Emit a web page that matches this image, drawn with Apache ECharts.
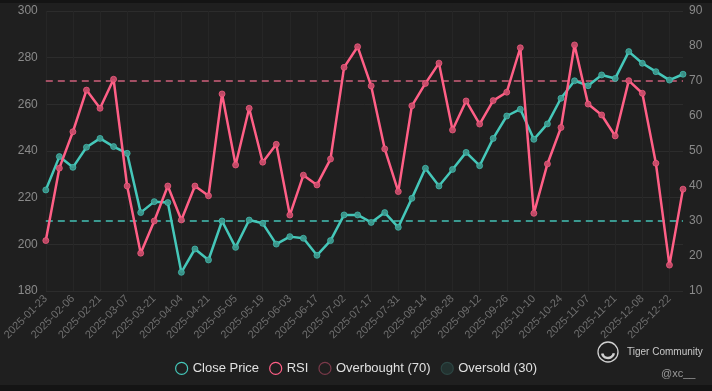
<!DOCTYPE html>
<html>
<head>
<meta charset="utf-8">
<script src="https://cdn.jsdelivr.net/npm/echarts@6/dist/echarts.min.js"></script>
<style>
html,body{margin:0;padding:0;background:#141414;}
#c{width:712px;height:391px;}
</style>
</head>
<body>
<div id="c"></div>
<script>
const categories = [
 '2025-01-23','2025-01-30','2025-02-06','2025-02-13','2025-02-21','2025-02-28','2025-03-07','2025-03-14',
 '2025-03-21','2025-03-28','2025-04-04','2025-04-11','2025-04-21','2025-04-28','2025-05-05','2025-05-12',
 '2025-05-19','2025-05-27','2025-06-03','2025-06-10','2025-06-17','2025-06-25','2025-07-02','2025-07-10',
 '2025-07-17','2025-07-24','2025-07-31','2025-08-07','2025-08-14','2025-08-21','2025-08-28','2025-09-05',
 '2025-09-12','2025-09-19','2025-09-26','2025-10-03','2025-10-10','2025-10-17','2025-10-24','2025-10-31',
 '2025-11-07','2025-11-14','2025-11-21','2025-12-01','2025-12-08','2025-12-15','2025-12-22','2025-12-30'
];
const closePrice = [
 223.3,237.6,233.0,241.6,245.4,241.9,239.0,213.6,218.3,217.9,188.0,198.0,
 193.3,210.0,198.7,210.4,209.0,200.1,203.3,202.6,195.3,201.6,212.6,212.6,
 209.4,213.6,207.3,219.7,232.6,225.0,232.1,239.4,233.7,245.4,255.0,257.9,
 245.0,251.6,262.6,270.1,268.0,272.6,271.1,282.6,277.6,274.0,270.4,272.9
];
const rsi = [
 24.4,45.1,55.5,67.4,62.2,70.5,40.0,20.8,30.0,40.0,30.3,40.0,
 37.2,66.3,46.0,62.2,46.8,51.9,31.7,43.1,40.3,47.7,73.9,79.8,
 68.6,50.6,38.4,62.9,69.3,75.1,56.0,64.3,57.7,64.4,66.8,79.5,
 32.2,46.3,56.7,80.3,63.4,60.3,54.3,70.1,66.5,46.5,17.4,39.1
];
const overboughtLevel = 70;
const oversoldLevel = 30;
const overbought = categories.map(() => overboughtLevel);
const oversold = categories.map(() => oversoldLevel);
const leftTicks = {min:180, max:300, interval:20};
const rightTicks = {min:10, max:90, interval:10};

const TEAL = '#45c7b9';
const PINK = '#ff5f86';
const OB = '#a34f64';
const OS = '#3a9990';
const FONT = 'Liberation Sans, Arial, sans-serif';

const chart = echarts.init(document.getElementById('c'), null, {renderer:'canvas'});
chart.setOption({
  backgroundColor: '#1f1f1f',
  animation: false,
  textStyle: {fontFamily: FONT},
  grid: {left: 37, right: 29, top: 11, bottom: 100, containLabel: false},
  legend: {
    bottom: 11, left: 'center',
    itemWidth: 12, itemHeight: 12, itemGap: 10, icon: 'circle',
    textStyle: {color: '#e0e0e0', fontSize: 13, fontFamily: FONT},
    data: [
      {name:'Close Price', itemStyle:{color:'#1f1f1f', borderColor:TEAL, borderWidth:1.2}},
      {name:'RSI', itemStyle:{color:'#1f1f1f', borderColor:PINK, borderWidth:1.2}},
      {name:'Overbought (70)', itemStyle:{color:'#1f1f1f', borderColor:'#7a3a4a', borderWidth:1.2}},
      {name:'Oversold (30)', itemStyle:{color:'#233230', borderColor:'#2c4643', borderWidth:1.2}}
    ]
  },
  xAxis: {
    type: 'category', data: categories, boundaryGap: false,
    axisLine: {show:false}, axisTick: {show:false},
    axisLabel: {interval: 1, rotate: 45, color: '#6f6f6f', fontSize: 11, margin: 6, fontFamily: FONT},
    splitLine: {show: true, interval: 1, lineStyle: {color: '#262626', width: 1}}
  },
  yAxis: [
    {type:'value', min:leftTicks.min, max:leftTicks.max, interval:leftTicks.interval,
     axisLine:{show:false}, axisTick:{show:false},
     axisLabel:{color:'#8a8a8a', fontSize:12, margin:8, fontFamily:FONT},
     splitLine:{lineStyle:{color:'#2c2c2c', width:1}}},
    {type:'value', min:rightTicks.min, max:rightTicks.max, interval:rightTicks.interval,
     axisLine:{show:false}, axisTick:{show:false},
     axisLabel:{color:'#8a8a8a', fontSize:12, margin:6, fontFamily:FONT},
     splitLine:{show:false}}
  ],
  series: [
    {name:'Close Price', type:'line', data:closePrice, yAxisIndex:0,
     symbol:'circle', symbolSize:6, showSymbol:true,
     lineStyle:{color:TEAL, width:2.5},
     itemStyle:{color:'rgba(60,150,140,0.9)', borderColor:'rgba(69,199,185,0.7)', borderWidth:1}, z:3},
    {name:'RSI', type:'line', data:rsi, yAxisIndex:1,
     symbol:'circle', symbolSize:6, showSymbol:true,
     lineStyle:{color:PINK, width:2.5},
     itemStyle:{color:'rgba(200,75,105,0.9)', borderColor:'rgba(255,95,134,0.7)', borderWidth:1}, z:4},
    {name:'Overbought (70)', type:'line', data:overbought, yAxisIndex:1, showSymbol:false, symbol:'none',
     lineStyle:{color:OB, width:2.2, type:[7,5]}, itemStyle:{color:OB}, z:2},
    {name:'Oversold (30)', type:'line', data:oversold, yAxisIndex:1, showSymbol:false, symbol:'none',
     lineStyle:{color:OS, width:2.2, type:[7,5]}, itemStyle:{color:OS}, z:2}
  ],
  graphic: [
    {type:'rect', left:0, top:0, shape:{width:712, height:3}, style:{fill:'#141414'}, silent:true},
    {type:'rect', left:0, top:385, shape:{width:712, height:6}, style:{fill:'#141414'}, silent:true},
    {type:'circle', shape:{cx:608, cy:352, r:10}, style:{fill:'none', stroke:'#d0d0d0', lineWidth:1.3}, silent:true},
    {type:'arc', shape:{cx:608, cy:352, r:6, startAngle:0.2, endAngle:2.9}, style:{fill:'none', stroke:'#d0d0d0', lineWidth:2.5}, silent:true},
    {type:'text', style:{x:627, y:352, text:'Tiger Community', fill:'#c8c8c8', font:'10px ' + FONT, verticalAlign:'middle'}, silent:true},
    {type:'text', style:{x:661, y:374, text:'@xc__', fill:'#9a9a9a', font:'11px ' + FONT, verticalAlign:'middle'}, silent:true}
  ]
});
</script>
</body>
</html>
